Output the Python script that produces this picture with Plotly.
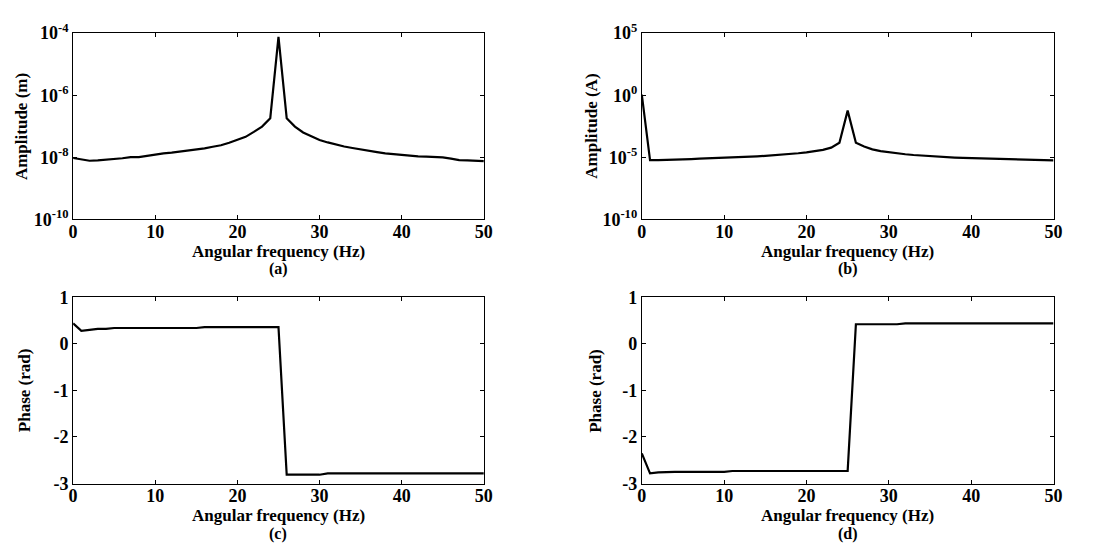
import plotly.graph_objects as go

# Frequency axis (Hz), shared by all four panels
freq = list(range(0, 51))

# (a) displacement amplitude spectrum (m)
amp_disp = [
    9.55e-9, 8.51e-9, 7.76e-9, 7.94e-9, 8.32e-9, 8.71e-9, 9.33e-9, 1.02e-8, 1.02e-8, 1.12e-8,
    1.26e-8, 1.35e-8, 1.41e-8, 1.51e-8, 1.66e-8, 1.78e-8, 1.95e-8, 2.19e-8, 2.45e-8, 2.95e-8,
    3.63e-8, 4.57e-8, 6.61e-8, 9.77e-8, 1.82e-7, 7.59e-5, 1.82e-7, 9.77e-8, 6.31e-8, 4.68e-8,
    3.63e-8, 3.02e-8, 2.57e-8, 2.24e-8, 2.00e-8, 1.78e-8, 1.62e-8, 1.48e-8, 1.35e-8, 1.26e-8,
    1.17e-8, 1.12e-8, 1.07e-8, 1.05e-8, 1.02e-8, 1.00e-8, 9.12e-9, 8.13e-9, 7.94e-9, 7.76e-9,
    7.59e-9,
]

# (b) current amplitude spectrum (A)
amp_curr = [
    1.12, 5.89e-6, 6.03e-6, 6.17e-6, 6.61e-6, 6.92e-6, 7.24e-6, 7.76e-6, 8.13e-6, 8.71e-6,
    9.33e-6, 1.00e-5, 1.07e-5, 1.12e-5, 1.20e-5, 1.32e-5, 1.45e-5, 1.58e-5, 1.82e-5, 2.14e-5,
    2.51e-5, 3.02e-5, 3.98e-5, 6.03e-5, 1.51e-4, 5.75e-2, 1.51e-4, 7.41e-5, 4.37e-5, 3.16e-5,
    2.51e-5, 2.09e-5, 1.78e-5, 1.55e-5, 1.38e-5, 1.23e-5, 1.12e-5, 1.02e-5, 9.55e-6, 8.91e-6,
    8.51e-6, 8.13e-6, 7.76e-6, 7.41e-6, 7.08e-6, 6.76e-6, 6.46e-6, 6.17e-6, 6.03e-6, 5.89e-6,
    5.75e-6,
]

# (c) displacement phase (rad)
phase_disp = [
    0.44, 0.28, 0.30, 0.32, 0.32, 0.34, 0.34, 0.34, 0.34, 0.34,
    0.34, 0.34, 0.34, 0.34, 0.34, 0.34, 0.36, 0.36, 0.36, 0.36,
    0.36, 0.36, 0.36, 0.36, 0.36, 0.36, -2.81, -2.81, -2.81, -2.81,
    -2.81, -2.78, -2.78, -2.78, -2.78, -2.78, -2.78, -2.78, -2.78, -2.78,
    -2.78, -2.78, -2.78, -2.78, -2.78, -2.78, -2.78, -2.78, -2.78, -2.78,
    -2.78,
]

# (d) current phase (rad)
phase_curr = [
    -2.35, -2.78, -2.76, -2.75, -2.75, -2.75, -2.75, -2.75, -2.75, -2.75,
    -2.75, -2.73, -2.73, -2.73, -2.73, -2.73, -2.73, -2.73, -2.73, -2.73,
    -2.73, -2.73, -2.73, -2.73, -2.73, -2.73, 0.42, 0.42, 0.42, 0.42,
    0.42, 0.42, 0.44, 0.44, 0.44, 0.44, 0.44, 0.44, 0.44, 0.44,
    0.44, 0.44, 0.44, 0.44, 0.44, 0.44, 0.44, 0.44, 0.44, 0.44,
    0.44,
]

x_ticks = [0, 10, 20, 30, 40, 50]
amp_disp_ticks = [1e-10, 1e-8, 1e-6, 1e-4]
amp_disp_labels = ["10<sup>-10</sup>", "10<sup>-8</sup>", "10<sup>-6</sup>", "10<sup>-4</sup>"]
amp_curr_ticks = [1e-10, 1e-5, 1e0, 1e5]
amp_curr_labels = ["10<sup>-10</sup>", "10<sup>-5</sup>", "10<sup>0</sup>", "10<sup>5</sup>"]
phase_ticks = [-3, -2, -1, 0, 1]
phase_labels = ["-3", "-2", "-1", "0", "1"]

panel_tags = ["(a)", "(b)", "(c)", "(d)"]
x_title = "Angular frequency (Hz)"
y_titles = ["Amplitude (m)", "Amplitude (A)", "Phase (rad)", "Phase (rad)"]

W, H = 1102, 556
FONT = "Liberation Serif"

# panel boxes in pixels: (left, right, top, bottom)
boxes = [(69, 485, 22, 216), (645, 1062, 22, 216), (69, 485, 297, 491), (645, 1062, 297, 491)]

fig = go.Figure()
series = [amp_disp, amp_curr, phase_disp, phase_curr]
for i, ys in enumerate(series):
    suffix = "" if i == 0 else str(i + 1)
    fig.add_trace(go.Scatter(
        x=freq, y=ys, mode="lines",
        line=dict(color="black", width=2.2),
        xaxis="x" + suffix, yaxis="y" + suffix, showlegend=False,
    ))

tickfont = dict(family=FONT, size=18, color="black", weight="bold")
axis_common = dict(
    showline=True, linecolor="black", linewidth=1, mirror="ticks",
    ticks="inside", ticklen=4, tickcolor="black", tickwidth=1,
    showgrid=False, zeroline=False, tickfont=tickfont,
)

layout = dict(
    width=W, height=H, margin=dict(l=0, r=0, t=0, b=0),
    paper_bgcolor="white", plot_bgcolor="white", showlegend=False,
)
y_specs = [
    dict(type="log", range=[-10, -4], tickvals=amp_disp_ticks, ticktext=amp_disp_labels),
    dict(type="log", range=[-10, 5], tickvals=amp_curr_ticks, ticktext=amp_curr_labels),
    dict(range=[-3, 1], tickvals=phase_ticks, ticktext=phase_labels),
    dict(range=[-3, 1], tickvals=phase_ticks, ticktext=phase_labels),
]

annotations = []
for i, (l, r, t, b) in enumerate(boxes):
    suffix = "" if i == 0 else str(i + 1)
    xd = [l / W, r / W]
    yd = [1 - b / H, 1 - t / H]
    layout["xaxis" + suffix] = dict(
        axis_common, domain=xd, range=[0, 50], tickvals=x_ticks,
        anchor="y" + suffix, ticklabelstandoff=-4,
    )
    layout["yaxis" + suffix] = dict(axis_common, domain=yd, anchor="x" + suffix, **y_specs[i])

    cx = (l + r) / 2 / W
    annotations.append(dict(
        text=x_title, x=cx, y=1 - (b + 33) / H, xref="paper", yref="paper",
        showarrow=False, xanchor="center", yanchor="middle",
        font=dict(family=FONT, size=17, color="black", weight="bold"),
    ))
    annotations.append(dict(
        text=panel_tags[i], x=cx, y=1 - (b + 52) / H, xref="paper", yref="paper",
        showarrow=False, xanchor="center", yanchor="middle",
        font=dict(family=FONT, size=16, color="black", weight="bold"),
    ))
    ty_x = [17, 594, 20, 598][i]
    annotations.append(dict(
        text=y_titles[i], x=ty_x / W, y=1 - (t + b) / 2 / H, xref="paper", yref="paper",
        showarrow=False, xanchor="center", yanchor="middle", textangle=-90,
        font=dict(family=FONT, size=17, color="black", weight="bold"),
    ))

layout["annotations"] = annotations
fig.update_layout(**layout)
fig.write_html("out.html")
